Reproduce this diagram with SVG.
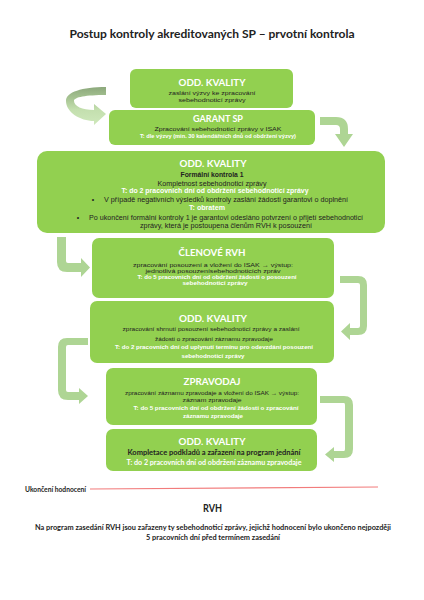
<svg xmlns="http://www.w3.org/2000/svg" width="424" height="600" viewBox="0 0 424 600">
<style>
.box{fill:#92d050}
.hd{font-family:Lato,"Open Sans","Liberation Sans",sans-serif;font-weight:bold;fill:#fff;text-anchor:middle;font-size:10px}
.tx{font-family:"Liberation Sans",Arial,sans-serif;fill:#222;text-anchor:middle;font-size:5.6px}
.tw{font-family:"Liberation Sans",Arial,sans-serif;fill:#fff;font-weight:bold;text-anchor:middle;font-size:5.6px}
.t7{font-size:7px}
.cal{font-family:Lato,"Open Sans","Liberation Sans",sans-serif;font-weight:bold;fill:#222;text-anchor:middle}
.arr{fill:#aed594}
</style>
<defs>
<linearGradient id="cg" x1="0" y1="86" x2="0" y2="125" gradientUnits="userSpaceOnUse">
<stop offset="0" stop-color="#8aa67a"/>
<stop offset="0.3" stop-color="#a5c291"/>
<stop offset="0.6" stop-color="#c3dfae"/>
<stop offset="1" stop-color="#cfe8bc"/>
</linearGradient>
</defs>
<rect width="424" height="600" fill="#fff"/>
<text x="212" y="38" class="cal" font-size="12" textLength="285" lengthAdjust="spacingAndGlyphs">Postup kontroly akreditovaných SP – prvotní kontrola</text>

<g id="connectors">
<path d="M106,87 C82,87 66,92 66,101 C66,112 80,121 94,121 V125 L106,114 L94,104 V110 C82,110 74,106 74,101 C74,97 86,95 106,95 Z" fill="url(#cg)"/>
<path class="arr" d="M320,117 H336 Q348,117 348,129 V134 H353 L344,147 L335,134 H340 V129 Q340,125 336,125 H320 Z"/>
<path class="arr" d="M57,237 V262 Q57,272 67,272 H81 V277 L90,267.5 L81,258 V263 H68 Q66,263 66,261 V237 Z"/>
<path class="arr" d="M340,276 H358 Q367,276 367,285 V326 Q367,335 358,335 H350 V340 L341,331.5 L350,323 V328 H358 Q360,328 360,326 V285 Q360,283 358,283 H340 Z"/>
<path class="arr" d="M88,338 H67 Q58,338 58,347 V390 Q58,400 68,400 H79 V404 L88,396 L79,388 V392 H68 Q66,392 66,390 V347 Q66,345 68,345 H88 Z"/>
<path class="arr" d="M320,396 H344 Q353,396 353,405 V449 Q353,458 344,458 H334 V462 L325,454.5 L334,447 V451 H344 Q345,451 345,449 V405 Q345,403 344,403 H320 Z"/>
</g>

<g id="n1">
<rect class="box" x="130" y="69" width="163" height="39" rx="6"/>
<text x="212" y="85.5" class="hd" textLength="67" lengthAdjust="spacingAndGlyphs">ODD. KVALITY</text>
<text x="212" y="95" class="tx" textLength="87" lengthAdjust="spacingAndGlyphs">zaslání výzvy ke zpracování</text>
<text x="212" y="101.5" class="tx" textLength="67" lengthAdjust="spacingAndGlyphs">sebehodnoticí zprávy</text>
</g>

<g id="n2">
<rect class="box" x="109" y="110" width="206" height="35" rx="6"/>
<text x="218" y="121.5" class="hd" textLength="50" lengthAdjust="spacingAndGlyphs">GARANT SP</text>
<text x="218" y="131" class="tx" textLength="127" lengthAdjust="spacingAndGlyphs">Zpracování sebehodnoticí zprávy v ISAK</text>
<text x="218" y="138" class="tw" textLength="156" lengthAdjust="spacingAndGlyphs">T: dle výzvy (min. 30 kalendářních dnů od obdržení výzvy)</text>
</g>

<g id="n3">
<rect class="box" x="37" y="151" width="348" height="82" rx="10"/>
<text x="213" y="166.5" class="hd" textLength="67" lengthAdjust="spacingAndGlyphs">ODD. KVALITY</text>
<text x="212" y="176.5" class="tx t7" font-weight="bold" textLength="63" lengthAdjust="spacingAndGlyphs">Formální kontrola 1</text>
<text x="212" y="185.5" class="tx t7" textLength="109" lengthAdjust="spacingAndGlyphs">Kompletnost sebehodnoticí zprávy</text>
<text x="215" y="192.5" class="tw t7" textLength="187" lengthAdjust="spacingAndGlyphs">T: do 2 pracovních dní od obdržení sebehodnoticí zprávy</text>
<text x="93" y="201.5" class="tx t7">•</text>
<text x="226" y="201.5" class="tx t7" textLength="244" lengthAdjust="spacingAndGlyphs">V případě negativních výsledků kontroly zaslání žádosti garantovi o doplnění</text>
<text x="207" y="209.5" class="tw t7" textLength="36" lengthAdjust="spacingAndGlyphs">T: obratem</text>
<text x="78" y="219.5" class="tx t7">•</text>
<text x="226" y="219.5" class="tx t7" textLength="274" lengthAdjust="spacingAndGlyphs">Po ukončení formální kontroly 1 je garantovi odesláno potvrzení o přijetí sebehodnoticí</text>
<text x="226" y="227.5" class="tx t7" textLength="172" lengthAdjust="spacingAndGlyphs">zprávy, která je postoupena členům RVH k posouzení</text>
</g>

<g id="n4">
<rect class="box" x="92" y="238" width="242" height="60" rx="7"/>
<text x="212" y="255.5" class="hd" textLength="67" lengthAdjust="spacingAndGlyphs">ČLENOVÉ RVH</text>
<text x="213" y="267" class="tx" textLength="160" lengthAdjust="spacingAndGlyphs">zpracování posouzení a vložení do ISAK → výstup:</text>
<text x="213" y="272.5" class="tx" textLength="135" lengthAdjust="spacingAndGlyphs">jednotlivá posouzenísebehodnoticích zpráv</text>
<text x="217" y="279" class="tw" textLength="159" lengthAdjust="spacingAndGlyphs">T: do 5 pracovních dní od obdržení žádosti o posouzení</text>
<text x="215" y="285" class="tw" textLength="65" lengthAdjust="spacingAndGlyphs">sebehodnoticí zprávy</text>
</g>

<g id="n5">
<rect class="box" x="90" y="301" width="244" height="62" rx="7"/>
<text x="213" y="321.5" class="hd" textLength="68" lengthAdjust="spacingAndGlyphs">ODD. KVALITY</text>
<text x="211" y="331" class="tx" textLength="177" lengthAdjust="spacingAndGlyphs">zpracování shrnutí posouzení sebehodnoticí zprávy a zaslání</text>
<text x="214" y="340.5" class="tx" font-size="6.2" textLength="118" lengthAdjust="spacingAndGlyphs">žádosti o zpracování záznamu zpravodaje</text>
<text x="214" y="349" class="tw" textLength="198" lengthAdjust="spacingAndGlyphs">T: do 2 pracovních dní od uplynutí termínu pro odevzdání posouzení</text>
<text x="213" y="358" class="tw" textLength="63" lengthAdjust="spacingAndGlyphs">sebehodnoticí zprávy</text>
</g>

<g id="n6">
<rect class="box" x="106" y="368" width="211" height="57" rx="7"/>
<text x="212" y="384.5" class="hd" textLength="57" lengthAdjust="spacingAndGlyphs">ZPRAVODAJ</text>
<text x="212" y="395" class="tx" textLength="174" lengthAdjust="spacingAndGlyphs">zpracování záznamu zpravodaje a vložení do ISAK → výstup:</text>
<text x="212" y="401.5" class="tx" font-size="6.2" textLength="59" lengthAdjust="spacingAndGlyphs">záznam zpravodaje</text>
<text x="216" y="410" class="tw" textLength="165" lengthAdjust="spacingAndGlyphs">T: do 5 pracovních dní od obdržení žádosti o zpracování</text>
<text x="213" y="418" class="tw" textLength="60" lengthAdjust="spacingAndGlyphs">záznamu zpravodaje</text>
</g>

<g id="n7">
<rect class="box" x="106" y="429" width="211" height="42" rx="7"/>
<text x="212" y="444.5" class="hd" textLength="67" lengthAdjust="spacingAndGlyphs">ODD. KVALITY</text>
<text x="214" y="454.5" class="cal" font-size="7" textLength="173" lengthAdjust="spacingAndGlyphs">Kompletace podkladů a zařazení na program jednání</text>
<text x="214" y="464.5" class="cal" font-size="7" fill="#fff" style="fill:#fff" textLength="175" lengthAdjust="spacingAndGlyphs">T: do 2 pracovních dní od obdržení záznamu zpravodaje</text>
</g>

<g id="footer">
<text x="55.5" y="492" class="cal" font-size="6.5" textLength="61" lengthAdjust="spacingAndGlyphs">Ukončení hodnocení</text>
<line x1="90" y1="489" x2="378" y2="487" stroke="#f27c7c" stroke-width="1.2"/>
<text x="212.5" y="512" class="cal" font-size="11" textLength="19" lengthAdjust="spacingAndGlyphs">RVH</text>
<text x="213" y="529.5" class="cal" font-size="7.5" textLength="356" lengthAdjust="spacingAndGlyphs">Na program zasedání RVH jsou zařazeny ty sebehodnoticí zprávy, jejichž hodnocení bylo ukončeno nejpozději</text>
<text x="213" y="539.5" class="cal" font-size="7.5" textLength="134" lengthAdjust="spacingAndGlyphs">5 pracovních dní před termínem zasedání</text>
</g>
</svg>
